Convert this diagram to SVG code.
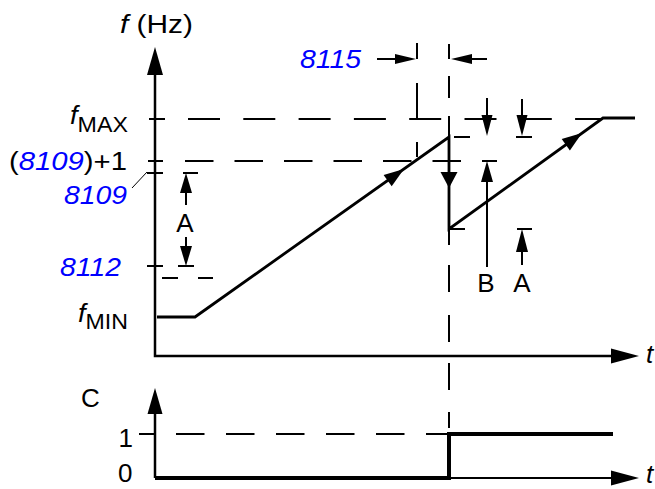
<svg xmlns="http://www.w3.org/2000/svg" width="655" height="489" viewBox="0 0 655 489">
<style>
text{font-family:"Liberation Sans",Arial,Helvetica,sans-serif;fill:#000;font-size:26px}
.it{font-style:italic}
.blue{fill:#0000ff;font-style:italic}
.sub{font-size:22px}
.ax{stroke:#000;stroke-width:2.5;fill:none}
.dash{stroke:#000;stroke-width:2;fill:none}
.thin{stroke:#000;stroke-width:1;fill:none}
.curve{stroke:#000;stroke-width:2.8;fill:none;stroke-linejoin:miter}
.sig{stroke:#000;stroke-width:4;fill:none;stroke-linejoin:miter}
.ah{fill:#000;stroke:none}
</style>
<rect width="655" height="489" fill="#fff"/>

<g id="axes">
  <path class="ax" d="M155,72 V356 H613"/>
  <polygon class="ah" points="155,47 147,75 163,75"/>
  <polygon class="ah" points="639,356 611,348.5 611,363.5"/>
  <path class="ax" d="M155,412 V478"/>
  <polygon class="ah" points="155,388 147.5,414 162.5,414"/>
  <path class="ax" d="M449,478 H613" style="stroke-width:2"/>
  <polygon class="ah" points="639,478 611,470.5 611,485.5"/>
</g>

<g id="dashed-guides">
  <path class="dash" d="M149,119 H165 M148,161 H163 M147,173 H163 M183,173 H198 M147,266 H163 M178,266 H194 M162,278 H178 M198,278 H213 M454,137 H470 M516,137 H532 M449,229 H465 M517,229 H532 M482,161 H497 M139,434 H155"/>
  <path class="dash" d="M188,119 H601" stroke-dasharray="32 23.3"/>
  <path class="dash" d="M185,161 H461" stroke-dasharray="28.5 21"/>
  <path class="dash" d="M176,434 H447" stroke-dasharray="28.5 21.5"/>
  <path class="dash" d="M417,43 V59 M417,83 V119 M417,142 V157"/>
  <path class="dash" d="M449,44 V59 M449,76 V98 M449,116 V137 M449,229 V245 M449,265 V292 M449,315 V342 M449,363 V390 M449,412 V428"/>
  <path class="thin" d="M132,188 L147,172"/>
</g>

<g id="frequency-curve">
  <path class="curve" d="M157,317 H195 L449,137 V229 L603,118 H635"/>
  <polygon class="ah" points="404,169 391.7,186.3 383.6,174.9"/>
  <polygon class="ah" points="582,133 569.9,150.4 561.7,139"/>
  <polygon class="ah" points="449,188 440.5,172 457.5,172"/>
</g>

<g id="signal-c">
  <path class="sig" d="M155,478 H449 V434 H613"/>
</g>

<g id="dimension-arrows">
  <path class="dash" d="M377,59 H400 M487,59 H467"/>
  <polygon class="ah" points="416,59 395,54 395,64"/>
  <polygon class="ah" points="451,59 472,54 472,64"/>
  <path class="dash" d="M487,98 V117 M522,99 V117"/>
  <polygon class="ah" points="487,136 481.5,115 492.5,115"/>
  <polygon class="ah" points="522,136 516.5,115 527.5,115"/>
  <path class="dash" d="M487,180 V267"/>
  <polygon class="ah" points="487,161 481,182 493,182"/>
  <path class="dash" d="M522,250 V265"/>
  <polygon class="ah" points="522,229 516,252 528,252"/>
  <path class="dash" d="M186,190 V205 M186,237 V248"/>
  <polygon class="ah" points="186,173 180,193 192,193"/>
  <polygon class="ah" points="186,266 180,246 192,246"/>
</g>

<g id="labels">
  <text x="120" y="33" textLength="73" lengthAdjust="spacingAndGlyphs"><tspan class="it">f</tspan> (Hz)</text>
  <text x="70" y="124" textLength="58" lengthAdjust="spacingAndGlyphs"><tspan class="it">f</tspan><tspan class="sub" dy="8">MAX</tspan></text>
  <text x="9" y="170" textLength="118" lengthAdjust="spacingAndGlyphs">(<tspan class="blue">8109</tspan>)+1</text>
  <text x="64" y="204" class="blue" textLength="63" lengthAdjust="spacingAndGlyphs">8109</text>
  <text x="60" y="276" class="blue" textLength="61" lengthAdjust="spacingAndGlyphs">8112</text>
  <text x="78" y="322" textLength="50" lengthAdjust="spacingAndGlyphs"><tspan class="it">f</tspan><tspan class="sub" dy="7">MIN</tspan></text>
  <text x="300" y="68" class="blue" textLength="61" lengthAdjust="spacingAndGlyphs">8115</text>
  <text x="185" y="232" text-anchor="middle">A</text>
  <text x="486" y="292" text-anchor="middle">B</text>
  <text x="522" y="292" text-anchor="middle">A</text>
  <text x="646" y="363" class="it">t</text>
  <text x="81" y="407">C</text>
  <text x="133" y="447" text-anchor="end">1</text>
  <text x="118" y="482">0</text>
  <text x="646" y="483" class="it">t</text>
</g>
</svg>
